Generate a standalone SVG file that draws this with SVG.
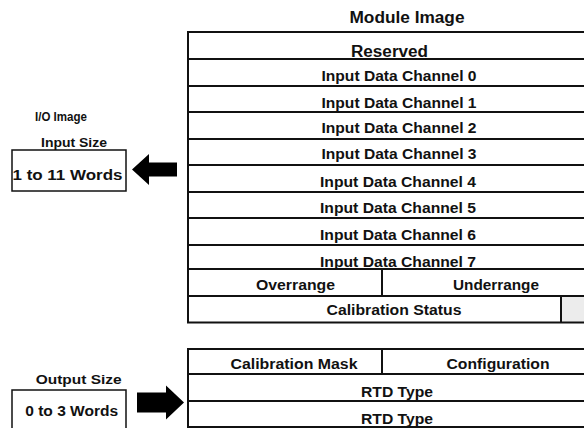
<svg xmlns="http://www.w3.org/2000/svg" width="584" height="428" viewBox="0 0 584 428">
<style>
text{font-family:"Liberation Sans",Arial,sans-serif;font-weight:bold;fill:#111;text-anchor:middle}
.ln{stroke:#111;stroke-width:2;fill:none}
.bx{stroke:#111;stroke-width:1.5;fill:#fff}
.arw{fill:#000;stroke:none}
</style>
<rect width="584" height="428" fill="#fff"/>
<g id="module-image">
<text x="407" y="22.5" font-size="16" textLength="115" lengthAdjust="spacingAndGlyphs">Module Image</text>
<rect x="561" y="296" width="30" height="26.5" fill="#ececec"/>
<path class="ln" d="M590 32H188V322.5H590"/>
<path class="ln" d="M188 59H590M188 86H590M188 112H590M188 139H590M188 165H590M188 192H590M188 218H590M188 245H590M188 269H590M188 296H590M382 269V296M561 296V322.5"/>
<text x="389.5" y="57" font-size="16" textLength="77" lengthAdjust="spacingAndGlyphs">Reserved</text>
<text x="399" y="81" font-size="14" textLength="155" lengthAdjust="spacingAndGlyphs">Input Data Channel 0</text>
<text x="399" y="107.7" font-size="14" textLength="155" lengthAdjust="spacingAndGlyphs">Input Data Channel 1</text>
<text x="399" y="133.3" font-size="14" textLength="155" lengthAdjust="spacingAndGlyphs">Input Data Channel 2</text>
<text x="399" y="159.3" font-size="14" textLength="155" lengthAdjust="spacingAndGlyphs">Input Data Channel 3</text>
<text x="398" y="187.3" font-size="14" textLength="156" lengthAdjust="spacingAndGlyphs">Input Data Channel 4</text>
<text x="398" y="212.7" font-size="14" textLength="156" lengthAdjust="spacingAndGlyphs">Input Data Channel 5</text>
<text x="398" y="240" font-size="14" textLength="156" lengthAdjust="spacingAndGlyphs">Input Data Channel 6</text>
<text x="398" y="266.7" font-size="14" textLength="156" lengthAdjust="spacingAndGlyphs">Input Data Channel 7</text>
<text x="295.5" y="290" font-size="14" textLength="79" lengthAdjust="spacingAndGlyphs">Overrange</text>
<text x="496" y="290" font-size="14" textLength="86" lengthAdjust="spacingAndGlyphs">Underrange</text>
<text x="394" y="315" font-size="14" textLength="135" lengthAdjust="spacingAndGlyphs">Calibration Status</text>
</g>
<g id="output-image">
<path class="ln" d="M590 349H188V427H590"/>
<path class="ln" d="M188 374H590M188 401H590M382 349V374"/>
<text x="294" y="369.3" font-size="14.5" textLength="127" lengthAdjust="spacingAndGlyphs">Calibration Mask</text>
<text x="498" y="369.3" font-size="14.5" textLength="103" lengthAdjust="spacingAndGlyphs">Configuration</text>
<text x="397" y="396.7" font-size="14.5" textLength="72" lengthAdjust="spacingAndGlyphs">RTD Type</text>
<text x="397" y="424" font-size="14.5" textLength="72" lengthAdjust="spacingAndGlyphs">RTD Type</text>
</g>
<g id="input-size">
<text x="61" y="120.5" font-size="12.5" textLength="52" lengthAdjust="spacingAndGlyphs">I/O Image</text>
<text x="74" y="146.7" font-size="13" textLength="66" lengthAdjust="spacingAndGlyphs">Input Size</text>
<rect class="bx" x="12" y="150" width="114" height="41"/>
<text x="67.5" y="180" font-size="15" textLength="110" lengthAdjust="spacingAndGlyphs">1 to 11 Words</text>
</g>
<g id="output-size">
<text x="78.7" y="384.3" font-size="13.5" textLength="86" lengthAdjust="spacingAndGlyphs">Output Size</text>
<path class="bx" d="M12 432V390H126V432"/>
<text x="71.7" y="416" font-size="14.5" textLength="93" lengthAdjust="spacingAndGlyphs">0 to 3 Words</text>
</g>
<g id="connectors">
<polygon class="arw" points="132,169.5 149,154 149,162.5 177,162.5 177,176.5 149,176.5 149,185"/>
<polygon class="arw" points="137,392.5 166,392.5 166,385.5 184,402.5 166,419.5 166,412.5 137,412.5"/>
</g>
</svg>
